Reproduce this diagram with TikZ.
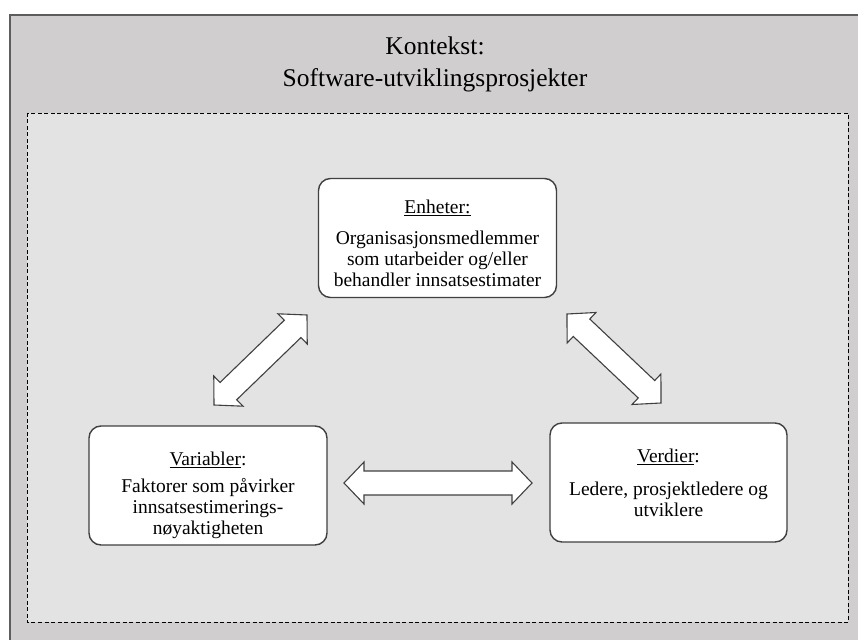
\documentclass[tikz,border=0pt]{standalone}
\usepackage{fontspec}
\setmainfont{Liberation Serif}
\usetikzlibrary{calc}

\definecolor{outergray}{HTML}{D0CECE}
\definecolor{innergray}{HTML}{E3E3E3}
\definecolor{edgegray}{HTML}{404040}

\tikzset{
  contextframe/.style={fill=outergray, draw=edgegray!85, line width=1.2pt},
  scopeframe/.style={fill=innergray, draw=black, line width=0.9pt,
                     dash pattern=on 4pt off 2.5pt},
  titletext/.style={align=center, inner sep=0pt,
                    font=\fontsize{25.5}{32}\selectfont},
  entity/.style={draw=edgegray, line width=1.4pt, fill=white,
                 rounded corners=12pt, minimum width=238pt,
                 minimum height=119pt, align=center, inner sep=0pt,
                 font=\fontsize{19.5}{21}\selectfont},
  blockarrow/.style={draw=edgegray, fill=white, line width=1.1pt,
                     line join=miter},
}

% Fat double-headed arrow between two named points:
% head length 20pt, head half-width 21pt, shaft half-width 12pt
\newcommand\fatarrowbetween[2]{%
  \draw[blockarrow] (#1)
    -- ($(#1)!20pt!(#2)!21pt!90:(#2)$)
    -- ($(#1)!20pt!(#2)!12pt!90:(#2)$)
    -- ($(#2)!20pt!(#1)!12pt!-90:(#1)$)
    -- ($(#2)!20pt!(#1)!21pt!-90:(#1)$)
    -- (#2)
    -- ($(#2)!20pt!(#1)!21pt!90:(#1)$)
    -- ($(#2)!20pt!(#1)!12pt!90:(#1)$)
    -- ($(#1)!20pt!(#2)!12pt!-90:(#2)$)
    -- ($(#1)!20pt!(#2)!21pt!-90:(#2)$)
    -- cycle;}

\begin{document}
\begin{tikzpicture}[x=1pt, y=-1pt]
  \useasboundingbox (0,0) rectangle (858,639);
  \clip (0,0) rectangle (858,639);
  \fill[white] (0,0) rectangle (858,639);

  % context frame and dashed scope
  \draw[contextframe] (10,15) rectangle (872,652);
  \draw[scopeframe] (27,113) rectangle (848,622);

  \node[titletext] (title) at (435,64)
    {Kontekst:\\Software-utviklingsprosjekter};

  % the three entities
  \node[entity] (enheter) at (437.5,238)
    {\rule{0pt}{25pt}\underline{Enheter:}\\[10pt]
     Organisasjonsmedlemmer\\som utarbeider og/eller\\behandler innsatsestimater};
  \node[entity] (variabler) at (208,485.5)
    {\rule{0pt}{33pt}\underline{Variabler}:\\[6pt]
     Faktorer som påvirker\\innsatsestimerings-\\nøyaktigheten};
  \node[entity, minimum width=237pt] (verdier) at (668.5,482.5)
    {\underline{Verdier}:\\[12pt]
     Ledere, prosjektledere og\\utviklere};

  % arrow end points
  \coordinate (ev1) at (307,315);
  \coordinate (ev2) at (214,405);
  \coordinate (ed1) at (567,314);
  \coordinate (ed2) at (661,403);
  \coordinate (vd1) at (344,483);
  \coordinate (vd2) at (532,483);

  \fatarrowbetween{ev2}{ev1}
  \fatarrowbetween{ed1}{ed2}
  \fatarrowbetween{vd1}{vd2}
\end{tikzpicture}
\end{document}
